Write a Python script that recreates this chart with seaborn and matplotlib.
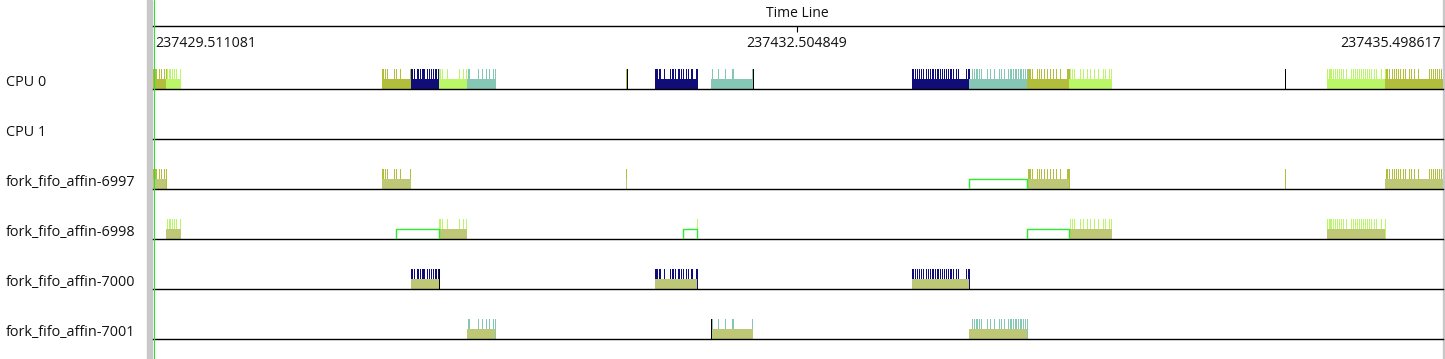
import matplotlib
matplotlib.use("Agg")
import matplotlib.pyplot as plt
from matplotlib.patches import Rectangle
from matplotlib.lines import Line2D
import pandas as pd
import seaborn as sns

# time line, in ms after 237429.511081
tick_times = [0.0, 2993.768, 5987.536]
tick_labels = ["237429.511081", "237432.504849", "237435.498617"]
view_end = 5996.8

rows = ["CPU 0", "CPU 1", "fork_fifo_affin-6997", "fork_fifo_affin-6998",
        "fork_fifo_affin-7000", "fork_fifo_affin-7001"]
tasks = ["fork_fifo_affin-6997", "fork_fifo_affin-6998",
         "fork_fifo_affin-7000", "fork_fifo_affin-7001"]
task_colors = {"fork_fifo_affin-6997": "#b3bd3c", "fork_fifo_affin-6998": "#bbf568",
               "fork_fifo_affin-7000": "#110d78", "fork_fifo_affin-7001": "#85c7b4"}
cpu0_color = "#bec776"
wakeup_color = "#2aee2a"

# run intervals on CPU 0 (start, end) in ms
run_6997 = [(0.0, 60.4), (1064.6, 1199.4), (2198.8, 2203.5), (4063.0, 4258.2), (5727.2, 5996.8)]
run_6998 = [(60.4, 130.2), (1329.5, 1459.7), (4258.2, 4458.1), (5457.6, 5727.2)]
run_7000 = [(1199.4, 1329.5), (2333.6, 2528.9), (3528.4, 3793.3)]
run_7001 = [(1459.7, 1589.9), (2594.0, 2789.2), (3793.3, 4063.0)]

# wake up latency (start, end) in ms
wake_6997 = [(3793.3, 4063.0)]
wake_6998 = [(1129.6, 1329.5), (2463.8, 2528.9), (4063.0, 4258.2)]

# trace events in ms
ev_6997 = [0.0, 4.6, 9.3, 13.9, 27.9, 37.2, 51.1, 60.4,
           1064.6, 1069.2, 1078.5, 1087.8, 1120.3, 1129.6, 1148.2, 1194.7,
           2198.8,
           4067.6, 4072.3, 4076.9, 4086.2, 4109.5, 4118.7, 4128.0, 4142.0, 4155.9,
           4169.9, 4183.8, 4197.8, 4216.4, 4248.9, 4253.6, 4258.2,
           5262.3,
           5731.8, 5736.5, 5745.8, 5759.7, 5769.0, 5778.3, 5787.6, 5796.9, 5810.9,
           5820.2, 5838.8, 5848.1, 5862.0, 5880.6, 5931.7, 5941.0, 5950.3, 5959.6,
           5968.9, 5978.2, 5987.5]
ev_6998 = [65.1, 74.4, 79.0, 88.3, 97.6, 106.9, 125.5,
           1329.5, 1334.2, 1343.5, 1366.7, 1422.5, 1441.1, 1455.0,
           2528.9,
           4262.9, 4272.2, 4281.5, 4309.3, 4323.3, 4341.9, 4355.8, 4374.4, 4393.0,
           4416.3, 4425.6, 4444.2, 4453.5,
           5457.6, 5466.9, 5471.5, 5476.2, 5485.5, 5494.8, 5504.1, 5513.4, 5522.7,
           5532.0, 5545.9, 5569.1, 5578.4, 5587.7, 5597.0, 5606.3, 5615.6, 5624.9,
           5634.2, 5643.5, 5652.8, 5662.1, 5676.1, 5685.4, 5708.6, 5727.2]
ev_7000 = [1199.4, 1204.0, 1213.3, 1227.3, 1231.9, 1241.2, 1250.5, 1255.1, 1259.8,
           1273.7, 1283.0, 1292.3, 1301.6, 1310.9, 1315.6, 1324.9,
           2333.6, 2338.3, 2342.9, 2352.2, 2356.9, 2375.5, 2403.4, 2412.7, 2417.3,
           2426.6, 2440.6, 2445.2, 2454.5, 2463.8, 2477.8, 2487.0, 2501.0, 2505.7,
           2524.2, 2528.9,
           3528.4, 3533.0, 3542.3, 3551.6, 3560.9, 3570.2, 3579.5, 3593.4, 3602.7,
           3612.0, 3621.3, 3626.0, 3635.3, 3644.6, 3649.2, 3658.5, 3667.8, 3677.1,
           3686.4, 3695.7, 3705.0, 3709.7, 3719.0, 3732.9, 3742.2, 3779.4, 3788.7, 3793.3]
ev_7001 = [1464.3, 1469.0, 1510.8, 1529.4, 1548.0, 1561.9, 1580.6, 1589.9,
           2598.6, 2626.5, 2659.1, 2691.6, 2696.2, 2784.6,
           3807.3, 3816.6, 3825.9, 3830.5, 3839.8, 3849.1, 3877.0, 3890.9, 3909.6,
           3932.8, 3942.1, 3956.0, 3974.6, 3983.9, 3988.6, 3997.9, 4007.2, 4011.8,
           4021.1, 4030.4, 4035.0, 4044.4, 4053.7, 4063.0]

# idle / switch markers
marks_cpu0 = [2203.5, 2789.2, 5262.3]
marks_7000 = [1329.5]
marks_7001 = [2594.0]

runs = dict(zip(tasks, [run_6997, run_6998, run_7000, run_7001]))
events = dict(zip(tasks, [ev_6997, ev_6998, ev_7000, ev_7001]))
wakes = {"fork_fifo_affin-6997": wake_6997, "fork_fifo_affin-6998": wake_6998}
marks = {"CPU 0": marks_cpu0, "fork_fifo_affin-7000": marks_7000,
         "fork_fifo_affin-7001": marks_7001}

ev_df = pd.DataFrame([(t, task) for task in tasks for t in events[task]],
                     columns=["time", "task"])

sns.set_theme(style="white")
plt.rcParams["font.family"] = ["Open Sans", "DejaVu Sans"]

W, H = 1445, 359
fig = plt.figure(figsize=(W / 100, H / 100), dpi=100)
x0, x1 = 153, 1443
txt = "#111111"
px = 0.72  # one pixel in points


def widths(iv):
    return [(a, b - a) for a, b in iv]


rug_kw = dict(height=0.5, legend=False, linewidth=px, expand_margins=False,
              antialiased=False, zorder=1)

for i, row in enumerate(rows):
    base = 89 + 50 * i
    ax = fig.add_axes([x0 / W, (H - base) / H, (x1 - x0) / W, 40 / H])
    ax.set_xlim(0, view_end)
    ax.set_ylim(0, 1)
    if row == "CPU 0":
        sns.rugplot(data=ev_df, x="time", hue="task", palette=task_colors, ax=ax, **rug_kw)
        for task in tasks:
            ax.broken_barh(widths(runs[task]), (0, 0.25), facecolors=task_colors[task],
                           edgecolors="none", linewidth=0, zorder=2)
    elif row in tasks:
        sub = ev_df[ev_df["task"] == row]
        sns.rugplot(data=sub, x="time", hue="task", palette=task_colors, ax=ax, **rug_kw)
        ax.broken_barh(widths(runs[row]), (0, 0.25), facecolors=cpu0_color,
                       edgecolors="none", linewidth=0, zorder=2)
        if row in wakes:
            ax.broken_barh(widths(wakes[row]), (0, 0.25), facecolors="none",
                           edgecolors=wakeup_color, linewidth=1.0, zorder=3)
    if row in marks:
        sns.rugplot(x=marks[row], height=0.5, color="black", ax=ax, linewidth=px,
                    expand_margins=False, antialiased=False, zorder=4)
    sns.despine(ax=ax, left=True, top=True, right=True)
    ax.spines["bottom"].set_color("black")
    ax.spines["bottom"].set_linewidth(1.0)
    ax.set_xticks([])
    ax.set_yticks([])
    ax.set_xlabel("")
    ax.set_ylabel("")
    ax.patch.set_alpha(0)
    fig.text(6 / W, (H - base + 2.5) / H, row, fontsize=10.4, va="baseline", ha="left",
             color=txt)

# header time line
hx = fig.add_axes([x0 / W, (H - 60) / H, (W - x0) / W, 34 / H])
hx.set_xlim(0, view_end * (W - x0) / (x1 - x0))
hx.set_ylim(0, 34)
sns.despine(ax=hx, left=True, bottom=True, right=True, top=False)
hx.spines["top"].set_color("black")
hx.spines["top"].set_linewidth(1.0)
hx.patch.set_alpha(0)
hx.xaxis.tick_top()
hx.set_xticks([tick_times[1]])
hx.set_xticklabels([])
hx.tick_params(axis="x", direction="in", length=4.5, width=0.8, color="black")
hx.set_yticks([])
for t, lab, ha in zip(tick_times, tick_labels, ["left", "center", "right"]):
    hx.text(t + (9 if ha == "left" else 0), 12.7, lab, ha=ha, va="baseline",
            fontsize=10.2, color=txt)
hx.text(tick_times[1], 34 + 9.3, "Time Line", ha="center", va="baseline",
        fontsize=10, color=txt)

# splitter and borders
fig.add_artist(Rectangle((146.5 / W, 0), 5 / W, 1, transform=fig.transFigure,
                         color="#c8c8c8", zorder=0))
fig.add_artist(Rectangle((1443 / W, 0), 2 / W, 1, transform=fig.transFigure,
                         color="#c8c8c8", zorder=0))
fig.add_artist(Line2D([153.5 / W, 153.5 / W], [0, 1], transform=fig.transFigure,
                      color="#33dd33", linewidth=0.8))

fig.savefig("out.png", dpi=100, facecolor="white")
